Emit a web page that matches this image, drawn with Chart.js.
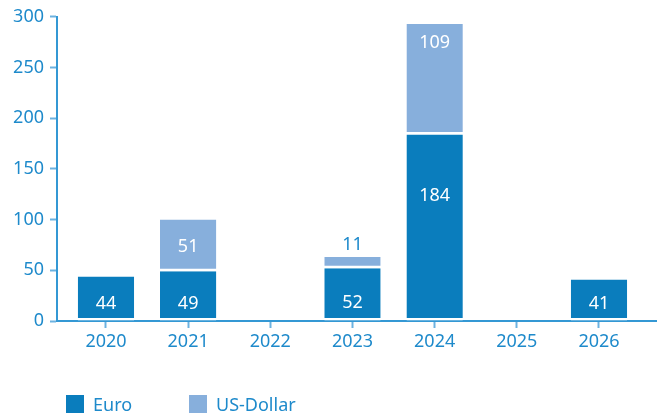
<!DOCTYPE html>
<html>
<head>
<meta charset="utf-8">
<script src="https://cdn.jsdelivr.net/npm/chart.js@4.4.1/dist/chart.umd.min.js"></script>
<style>
    html, body { margin: 0; padding: 0; background: #fff; }
    #wrap { position: relative; width: 657px; height: 415px; }
    #legend {
        position: absolute; left: 66px; top: 395px;
        display: flex; font-family: "Noto Sans", sans-serif; font-size: 18px; color: #1e8acb;
    }
    #legend .item { display: flex; align-items: center; width: 123px; height: 18px; }
    #legend .box { width: 18px; height: 18px; margin-right: 9px; }
</style>
</head>
<body>
<div id="wrap">
    <canvas id="chart" width="657" height="415"></canvas>
    <div id="legend"></div>
</div>
<script>
//=================================================
//Data
//=================================================
const years = [2020, 2021, 2022, 2023, 2024, 2025, 2026];
const euro = [44, 49, null, 52, 184, null, 41];
const usd = [null, 51, null, 11, 109, null, null];
const seriesNames = ["Euro", "US-Dollar"];

//=================================================
//Styles
//=================================================
const euroColor = "#0a7dbd";
const usdColor = "#87afdc";
const textColor = "#1e8acb";
const axisColor = "#3498d4";
const tickColor = "#6cb2e0";
const font = { size: 18, family: "'Noto Sans', sans-serif" };

// where each value label sits inside its segment (0 = top, 1 = base)
const labelSpot = [
    [0.59, 0.63, 0, 0.63, 0.32, 0, 0.56],
    [0, 0.49, 0, 0, 0.156, 0, 0],
];

const valueLabels = {
    id: "valueLabels",
    afterDatasetsDraw(chart) {
        const ctx = chart.ctx;
        ctx.save();
        ctx.font = "18px 'Noto Sans', sans-serif";
        ctx.textAlign = "center";
        ctx.textBaseline = "middle";
        chart.data.datasets.forEach((ds, di) => {
            const meta = chart.getDatasetMeta(di);
            meta.data.forEach((bar, i) => {
                const v = ds.data[i];
                if (v == null) return;
                const h = bar.base - bar.y;
                if (h < 25) {
                    ctx.fillStyle = textColor;
                    ctx.fillText(String(v), bar.x, bar.y - 12.5);
                } else {
                    ctx.fillStyle = "#fff";
                    ctx.fillText(String(v), bar.x, bar.y + labelSpot[di][i] * h + 1.5);
                }
            });
        });
        ctx.restore();
    },
};

//=================================================
//Chart.js
//=================================================
const config = {
    type: "bar",
    data: {
        labels: years,
        datasets: [
            { label: seriesNames[0], data: euro, backgroundColor: euroColor },
            { label: seriesNames[1], data: usd, backgroundColor: usdColor },
        ],
    },
    options: {
        responsive: false,
        animation: false,
        datasets: {
            bar: {
                borderColor: "#fff",
                borderWidth: { top: 0, left: 0, right: 0, bottom: 2.5 },
                borderSkipped: false,
                barPercentage: 0.686,
                categoryPercentage: 1,
            },
        },
        layout: { padding: { top: 15, right: 0, left: 0, bottom: 0 } },
        scales: {
            x: {
                type: "linear",
                stacked: true,
                offset: false,
                bounds: "data",
                min: 2019.404,
                max: 2026.706,
                afterBuildTicks: (s) => {
                    s.ticks = years.map((v) => ({ value: v }));
                },
                afterFit: (s) => {
                    s.height = 94;
                },
                border: { color: axisColor, width: 2 },
                grid: { offset: false, drawOnChartArea: false, tickLength: 7, tickColor: tickColor, tickWidth: 2 },
                ticks: {
                    color: textColor,
                    font: font,
                    padding: 3,
                    autoSkip: false,
                    maxRotation: 0,
                    callback: (v) => String(v),
                },
            },
            y: {
                stacked: true,
                min: 0,
                max: 300,
                afterFit: (s) => {
                    s.width = 57;
                },
                border: { color: axisColor, width: 2 },
                grid: { drawOnChartArea: false, tickLength: 7, tickColor: tickColor, tickWidth: 2 },
                ticks: { stepSize: 50, color: textColor, font: font, padding: 6 },
            },
        },
        plugins: {
            legend: { display: false },
            tooltip: { enabled: false },
        },
    },
    plugins: [valueLabels],
};

const chart = new Chart(document.getElementById("chart"), config);

// html legend built from the datasets
const legendEl = document.getElementById("legend");
chart.data.datasets.forEach((ds) => {
    const item = document.createElement("span");
    item.className = "item";
    const box = document.createElement("span");
    box.className = "box";
    box.style.background = ds.backgroundColor;
    item.appendChild(box);
    item.appendChild(document.createTextNode(ds.label));
    legendEl.appendChild(item);
});
</script>
</body>
</html>
